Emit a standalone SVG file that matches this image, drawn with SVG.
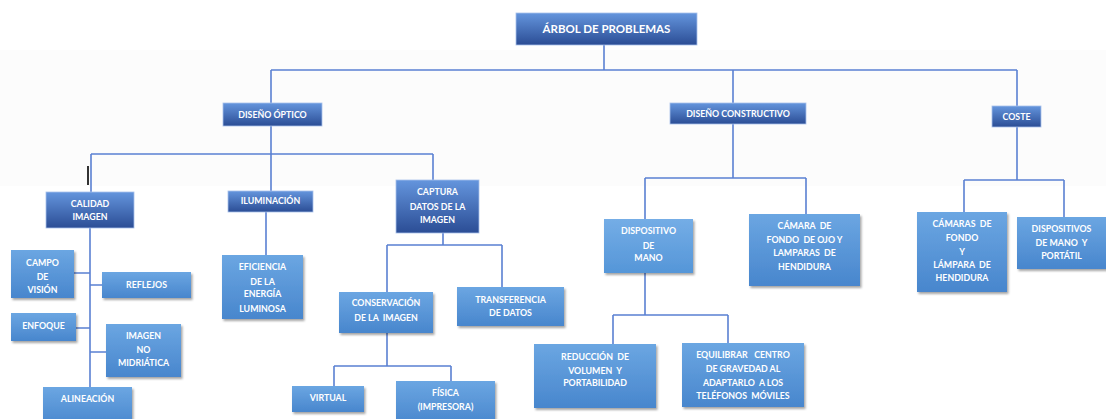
<svg xmlns="http://www.w3.org/2000/svg" width="1106" height="419" viewBox="0 0 1106 419">
<defs>
<linearGradient id="gDark" x1="0" y1="0" x2="0" y2="1">
<stop offset="0" stop-color="#6495dd"/><stop offset="1" stop-color="#2b4d95"/>
</linearGradient>
<linearGradient id="gLight" x1="0" y1="0" x2="0" y2="1">
<stop offset="0" stop-color="#6ba6e2"/><stop offset="1" stop-color="#4886cd"/>
</linearGradient>
<linearGradient id="gPale" x1="0" y1="0" x2="0" y2="1">
<stop offset="0" stop-color="#74ade6"/><stop offset="1" stop-color="#5596d8"/>
</linearGradient>
<filter id="sh" x="-10%" y="-10%" width="130%" height="130%">
<feDropShadow dx="1.5" dy="2" stdDeviation="1.2" flood-color="#000" flood-opacity="0.35"/>
</filter>
<style>
.dark{fill:url(#gDark);stroke:#a8c0ea;stroke-width:0.8}
.light{fill:url(#gLight);filter:url(#sh)}
.pale{fill:url(#gPale);filter:url(#sh)}
text{font-family:Lato,"Liberation Sans",sans-serif;font-weight:700;fill:#fff;font-size:8.8px;text-anchor:middle;white-space:pre}
.big{font-size:11.5px}
.ln{fill:none;stroke:#5a80d2;stroke-width:1.6}
</style>
</defs>
<rect width="1106" height="419" fill="#fff"/>
<rect x="0" y="50" width="1106" height="136" fill="#fcfcfc"/>
<g id="connectors">
<path class="ln" d="M604,45V70M271,70H1017M271,70V103M733,70V103M1017,70V106"/>
<path class="ln" d="M271,126V191M91,154H433M91,154V192M433,154V180"/>
<path class="ln" d="M90,228V387M74,273H90M90,285H102M76,328H90M90,352H106"/>
<path class="ln" d="M266,212V255"/>
<path class="ln" d="M443,233V245M387,245H502M387,245V292M502,245V287"/>
<path class="ln" d="M387,333V366M334,366H451M334,366V386M451,366V381"/>
<path class="ln" d="M733,124V178M645,178H806M645,178V219M806,178V214"/>
<path class="ln" d="M645,273V315M613,315H728M613,315V344M728,315V343"/>
<path class="ln" d="M1017,127V180M964,180H1064M964,180V212M1064,180V217"/>
</g>
<rect x="87" y="166" width="2" height="19" fill="#333"/>
<g id="root"><rect class="dark" x="516" y="13" width="181" height="32"/><text class="big" x="606.5" y="33">ÁRBOL DE PROBLEMAS</text></g>
<g id="optico"><rect class="dark" x="223" y="103" width="99" height="23"/><text x="272.5" y="118.2">DISEÑO ÓPTICO</text></g>
<g id="constructivo"><rect class="dark" x="670" y="103" width="136" height="21"/><text x="738" y="116.5">DISEÑO CONSTRUCTIVO</text></g>
<g id="coste"><rect class="dark" x="992" y="106" width="49" height="21"/><text x="1016.5" y="120">COSTE</text></g>
<g id="calidad"><rect class="dark" x="46" y="192" width="88" height="36"/><text x="90" y="207.2">CALIDAD</text><text x="90" y="220.2">IMAGEN</text></g>
<g id="iluminacion"><rect class="dark" x="228" y="191" width="85" height="21"/><text x="270.5" y="204.2">ILUMINACIÓN</text></g>
<g id="captura"><rect class="dark" x="396" y="180" width="83" height="53"/><text x="437.5" y="195.2">CAPTURA</text><text x="437.5" y="210.2">DATOS DE LA</text><text x="437.5" y="223.2">IMAGEN</text></g>
<g id="campo"><rect class="light" x="11" y="250" width="63" height="48"/><text x="42.5" y="266.2">CAMPO</text><text x="42.5" y="280.2">DE</text><text x="42.5" y="293.2">VISIÓN</text></g>
<g id="reflejos"><rect class="light" x="102" y="272" width="89" height="26"/><text x="146.5" y="288.2">REFLEJOS</text></g>
<g id="enfoque"><rect class="light" x="11" y="313" width="65" height="28"/><text x="43.5" y="329.2">ENFOQUE</text></g>
<g id="midriatica"><rect class="light" x="106" y="324" width="75" height="53"/><text x="143.5" y="339.2">IMAGEN</text><text x="143.5" y="353.2">NO</text><text x="143.5" y="366.2">MIDRIÁTICA</text></g>
<g id="alineacion"><rect class="light" x="43" y="387" width="89" height="40"/><text x="87.5" y="402.2">ALINEACIÓN</text></g>
<g id="eficiencia"><rect class="light" x="222" y="255" width="81" height="64"/><text x="262.5" y="270.2">EFICIENCIA</text><text x="262.5" y="285.2">DE LA</text><text x="262.5" y="297.2">ENERGÍA</text><text x="262.5" y="312.2">LUMINOSA</text></g>
<g id="conservacion"><rect class="light" x="339" y="292" width="94" height="41"/><text x="386" y="306.2">CONSERVACIÓN</text><text x="386" y="321.2">DE LA  IMAGEN</text></g>
<g id="transferencia"><rect class="light" x="457" y="287" width="107" height="39"/><text x="510.5" y="303.2">TRANSFERENCIA</text><text x="510.5" y="316.2">DE DATOS</text></g>
<g id="virtual"><rect class="light" x="292" y="386" width="72" height="26"/><text x="328" y="401.2">VIRTUAL</text></g>
<g id="fisica"><rect class="light" x="396" y="381" width="99" height="44"/><text x="445.5" y="396.2">FÍSICA</text><text x="445.5" y="410.2">(IMPRESORA)</text></g>
<g id="dispositivo"><rect class="pale" x="604" y="219" width="89" height="54"/><text x="648.5" y="234.2">DISPOSITIVO</text><text x="648.5" y="249.2">DE</text><text x="648.5" y="261.2">MANO</text></g>
<g id="camara"><rect class="light" x="749" y="214" width="111" height="72"/><text x="804.5" y="229.2">CÁMARA  DE</text><text x="804.5" y="243.2">FONDO  DE OJO Y</text><text x="804.5" y="256.2">LAMPARAS  DE</text><text x="804.5" y="270.2">HENDIDURA</text></g>
<g id="reduccion"><rect class="light" x="534" y="344" width="122" height="64"/><text x="595" y="360.2">REDUCCIÓN  DE</text><text x="595" y="374.2">VOLUMEN  Y</text><text x="595" y="386.2">PORTABILIDAD</text></g>
<g id="equilibrar"><rect class="light" x="682" y="343" width="122" height="64"/><text x="743" y="358.2">EQUILIBRAR   CENTRO</text><text x="743" y="372.2">DE GRAVEDAD AL</text><text x="743" y="386.2">ADAPTARLO  A LOS</text><text x="743" y="399.2">TELÉFONOS  MÓVILES</text></g>
<g id="camaras"><rect class="light" x="917" y="212" width="90" height="80"/><text x="962" y="227.2">CÁMARAS  DE</text><text x="962" y="241.2">FONDO</text><text x="962" y="255.2">Y</text><text x="962" y="268.2">LÁMPARA  DE</text><text x="962" y="281.2">HENDIDURA</text></g>
<g id="dispositivos"><rect class="light" x="1017" y="217" width="92" height="52"/><text x="1061.5" y="232.2">DISPOSITIVOS</text><text x="1061.5" y="246.2">DE MANO  Y</text><text x="1061.5" y="259.2">PORTÁTIL</text></g>
</svg>
